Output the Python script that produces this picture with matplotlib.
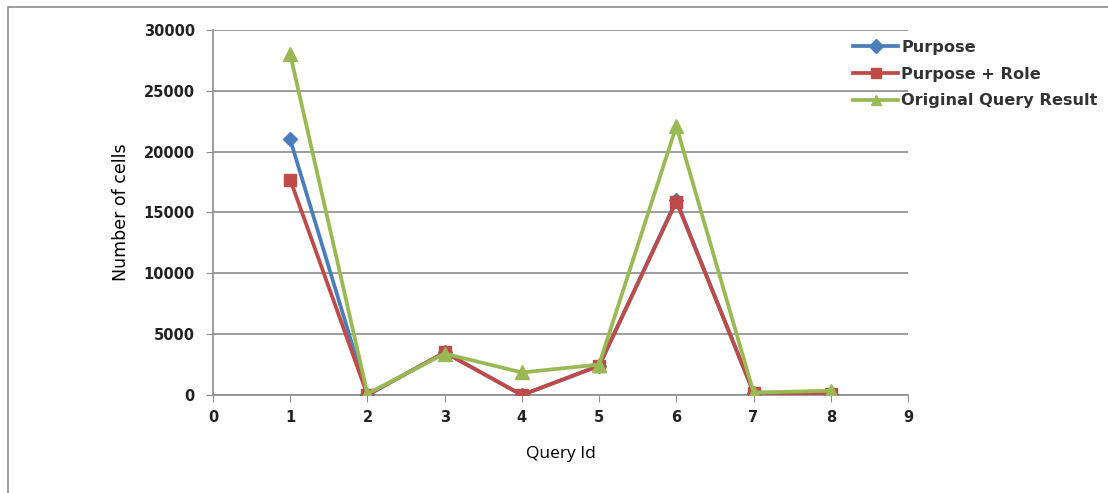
import matplotlib
matplotlib.use("Agg")
import matplotlib.pyplot as plt
from matplotlib.patches import Rectangle

query_ids = [1, 2, 3, 4, 5, 6, 7, 8]
purpose = [21000, 0, 3500, 0, 2400, 16000, 200, 50]
purpose_role = [17700, 0, 3500, 0, 2400, 15900, 200, 50]
original = [28000, 100, 3400, 1850, 2500, 22100, 200, 350]
x_ticks = list(range(0, 10))
y_ticks = [0, 5000, 10000, 15000, 20000, 25000, 30000]

W, H = 1108, 493
fig = plt.figure(figsize=(W / 100, H / 100), dpi=100)
fig.patch.set_facecolor("white")
ax = fig.add_axes([213 / W, 1 - 395 / H, (908 - 213) / W, (395 - 30) / H])

# outer frame
fig.patches.append(Rectangle((8 / W, -0.05), 1.1, 1 - 7 / H + 0.05,
                             transform=fig.transFigure, fill=False,
                             edgecolor="#8c8c8c", linewidth=1.2))

blue = "#4a7ebb"
red = "#be4b48"
green = "#98b954"

ax.plot(query_ids, purpose, color=blue, lw=2.7, marker="D", ms=7,
        label="Purpose", zorder=3)
ax.plot(query_ids, purpose_role, color=red, lw=2.7, marker="s", ms=8.5,
        label="Purpose + Role", zorder=4)
ax.plot(query_ids, original, color=green, lw=2.7, marker="^", ms=10,
        label="Original Query Result", zorder=5)

ax.set_xlim(0, 9)
ax.set_ylim(0, 30000)
ax.set_xticks(x_ticks)
ax.set_yticks(y_ticks)
ax.grid(axis="y", color="#8c8c8c", lw=1.2)
ax.set_axisbelow(True)
for s in ["top", "right"]:
    ax.spines[s].set_visible(False)
for s in ["left", "bottom"]:
    ax.spines[s].set_color("#8c8c8c")
    ax.spines[s].set_linewidth(1.2)
ax.tick_params(axis="both", direction="out", length=5, color="#8c8c8c",
               labelsize=10.5, labelcolor="#222222")
ax.tick_params(axis="y", pad=8)
ax.tick_params(axis="x", pad=6)
for lab in ax.get_xticklabels() + ax.get_yticklabels():
    lab.set_fontfamily("DejaVu Sans")
    lab.set_fontweight("bold")

ax.set_xlabel("Query Id", fontsize=12.5, family="Open Sans", labelpad=15)
ax.set_ylabel("Number of cells", fontsize=12.5, family="Liberation Sans Narrow",
              labelpad=10)

leg = ax.legend(loc="upper left", bbox_to_anchor=(0.9, 1.012), frameon=False,
                handlelength=2.8, labelspacing=0.72, handletextpad=0.2,
                prop={"family": "DejaVu Sans", "size": 11.6})
for h in leg.legend_handles:
    h.set_markersize(7)
for t in leg.get_texts():
    t.set_color("#333333")
    t.set_fontweight("bold")

fig.savefig("out.png", dpi=100)
